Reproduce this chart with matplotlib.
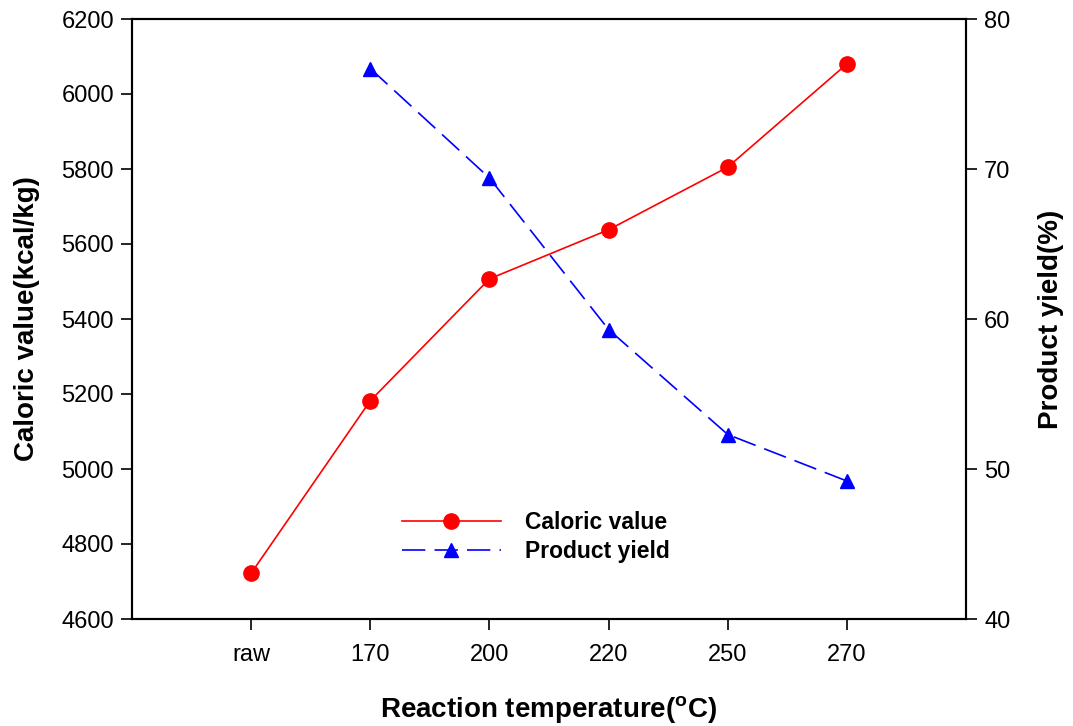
import matplotlib
matplotlib.use("Agg")
import matplotlib.pyplot as plt

plt.rcParams['font.family'] = ['Liberation Sans', 'DejaVu Sans']

categories = ['raw', '170', '200', '220', '250', '270']
caloric = [4722, 5182, 5507, 5638, 5805, 6080]
yield_cats = ['170', '200', '220', '250', '270']
product_yield = [76.7, 69.4, 59.3, 52.3, 49.2]

fig = plt.figure(figsize=(10.73, 7.26), dpi=100)
ax = fig.add_axes([132/1073, 1-619/726, (966-132)/1073, (619-19)/726])
ax2 = ax.twinx()

x = list(range(len(categories)))
xy = [categories.index(c) for c in yield_cats]

l1, = ax.plot(x, caloric, color='#ff0000', lw=1.2, marker='o', ms=11, label='Caloric value')
l2, = ax2.plot(xy, product_yield, color='#0000ff', lw=1.2, marker='^', ms=10,
               dashes=(14, 5.5), label='Product yield')

ax.set_xlim(-1, 6)
ax.set_ylim(4600, 6200)
ax.set_yticks(range(4600, 6201, 200))
ax2.set_ylim(40, 80)
ax2.set_yticks(range(40, 81, 10))
ax.set_xticks(x)
ax.set_xticklabels(categories)

for a in (ax, ax2):
    a.tick_params(direction='out', length=8, width=1.2, labelsize=17, pad=5)
    for s in a.spines.values():
        s.set_linewidth(1.5)
ax.tick_params(axis='x', pad=10)

ax.set_xlabel('Reaction temperature($\\mathregular{^o}$C)', fontsize=20, fontweight='bold', labelpad=20)
ax.set_ylabel('Caloric value(kcal/kg)', fontsize=20, fontweight='bold', labelpad=15)
ax2.set_ylabel('Product yield(%)', fontsize=20, fontweight='bold', labelpad=20)

leg = ax.legend([l1, l2], ['Caloric value', 'Product yield'], loc='upper left',
                bbox_to_anchor=(386/1073, 1-495/726), bbox_transform=fig.transFigure,
                frameon=False, prop={'weight': 'bold', 'size': 16.5},
                handlelength=4.3, handletextpad=1.05, labelspacing=0.28,
                borderpad=0.2)

fig.savefig('out.png', dpi=100)
